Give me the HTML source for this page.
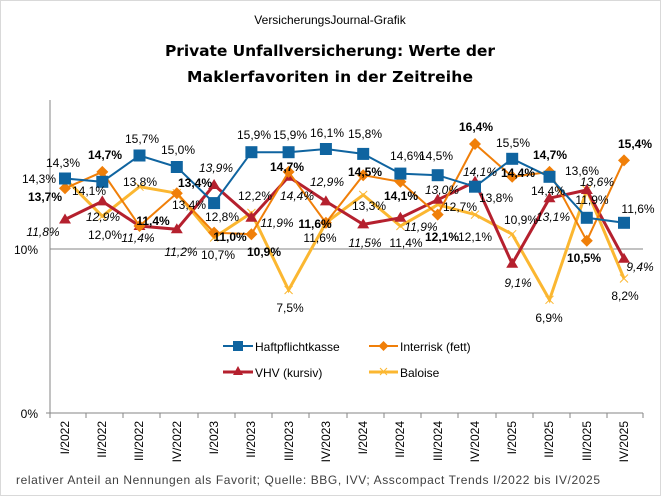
<!DOCTYPE html>
<html><head><meta charset="utf-8"><style>
body{margin:0;background:#fff}
svg{display:block;font-family:"Liberation Sans",Arial,sans-serif}
</style></head><body>
<svg width="661" height="496" viewBox="0 0 661 496" xmlns="http://www.w3.org/2000/svg">
<rect x="0.5" y="0.5" width="660" height="495" fill="#fff" stroke="#d9d9d9"/>
<text x="330" y="24" font-size="12" text-anchor="middle">VersicherungsJournal-Grafik</text>
<text x="330" y="56" font-size="15.5" font-weight="bold" text-anchor="middle" style="font-family:'DejaVu Sans',sans-serif" textLength="330">Private Unfallversicherung: Werte der</text>
<text x="330" y="82" font-size="15.5" font-weight="bold" text-anchor="middle" style="font-family:'DejaVu Sans',sans-serif" textLength="286">Maklerfavoriten in der Zeitreihe</text>
<line x1="50" y1="100" x2="50" y2="413" stroke="#868686"/>
<line x1="50" y1="249" x2="643" y2="249" stroke="#868686"/>
<line x1="46" y1="413" x2="643" y2="413" stroke="#868686"/>
<g stroke="#868686">
<line x1="50" y1="413" x2="50" y2="418"/><line x1="86" y1="413" x2="86" y2="418"/><line x1="123" y1="413" x2="123" y2="418"/><line x1="160" y1="413" x2="160" y2="418"/><line x1="198" y1="413" x2="198" y2="418"/><line x1="235" y1="413" x2="235" y2="418"/><line x1="272" y1="413" x2="272" y2="418"/><line x1="309" y1="413" x2="309" y2="418"/><line x1="347" y1="413" x2="347" y2="418"/><line x1="384" y1="413" x2="384" y2="418"/><line x1="421" y1="413" x2="421" y2="418"/><line x1="458" y1="413" x2="458" y2="418"/><line x1="496" y1="413" x2="496" y2="418"/><line x1="533" y1="413" x2="533" y2="418"/><line x1="570" y1="413" x2="570" y2="418"/><line x1="607" y1="413" x2="607" y2="418"/><line x1="643" y1="413" x2="643" y2="418"/>
</g>
<text x="38" y="254" font-size="12" text-anchor="end">10%</text>
<text x="38" y="418" font-size="12" text-anchor="end">0%</text>
<g font-size="12" text-anchor="end">
<text transform="translate(69,421) rotate(-90)">I/2022</text>
<text transform="translate(106,421) rotate(-90)">II/2022</text>
<text transform="translate(143,421) rotate(-90)">III/2022</text>
<text transform="translate(181,421) rotate(-90)">IV/2022</text>
<text transform="translate(218,421) rotate(-90)">I/2023</text>
<text transform="translate(255,421) rotate(-90)">II/2023</text>
<text transform="translate(293,421) rotate(-90)">III/2023</text>
<text transform="translate(330,421) rotate(-90)">IV/2023</text>
<text transform="translate(367,421) rotate(-90)">I/2024</text>
<text transform="translate(404,421) rotate(-90)">II/2024</text>
<text transform="translate(442,421) rotate(-90)">III/2024</text>
<text transform="translate(479,421) rotate(-90)">IV/2024</text>
<text transform="translate(516,421) rotate(-90)">I/2025</text>
<text transform="translate(553,421) rotate(-90)">II/2025</text>
<text transform="translate(591,421) rotate(-90)">III/2025</text>
<text transform="translate(628,421) rotate(-90)">IV/2025</text>
</g>
<!-- Baloise -->
<polyline fill="none" stroke="#fbb731" stroke-width="3" points="65,178.5 102.3,216.2 139.5,186.7 176.8,193.2 214.1,237.5 251.4,212.9 288.6,290 325.9,222.8 363.2,194.9 400.4,226 437.7,204.7 475,214.6 512.2,234.2 549.5,299.8 586.8,190 624,278.5"/>
<g stroke="#fbb731" stroke-width="1">
<path d="M61,174.5l8,8M69,174.5l-8,8M98.3,212.2l8,8M106.3,212.2l-8,8M135.5,182.7l8,8M143.5,182.7l-8,8M172.8,189.2l8,8M180.8,189.2l-8,8M210.1,233.5l8,8M218.1,233.5l-8,8M247.4,208.9l8,8M255.4,208.9l-8,8M284.6,286l8,8M292.6,286l-8,8M321.9,218.8l8,8M329.9,218.8l-8,8M359.2,190.9l8,8M367.2,190.9l-8,8M396.4,222l8,8M404.4,222l-8,8M433.7,200.7l8,8M441.7,200.7l-8,8M471,210.6l8,8M479,210.6l-8,8M508.2,230.2l8,8M516.2,230.2l-8,8M545.5,295.8l8,8M553.5,295.8l-8,8M582.8,186l8,8M590.8,186l-8,8M620,274.5l8,8M628,274.5l-8,8"/>
</g>
<!-- VHV -->
<polyline fill="none" stroke="#b5202e" stroke-width="3" points="65,219.5 102.3,201.4 139.5,226 176.8,229.3 214.1,185 251.4,217.8 288.6,176.8 325.9,201.4 363.2,224.4 400.4,217.8 437.7,199.8 475,181.8 512.2,263.8 549.5,198.2 586.8,190 624,258.8"/>
<g fill="#b5202e">
<path d="M65,213.5l6,10h-12z"/><path d="M102.3,195.4l6,10h-12z"/><path d="M139.5,220l6,10h-12z"/><path d="M176.8,223.3l6,10h-12z"/><path d="M214.1,179l6,10h-12z"/><path d="M251.4,211.8l6,10h-12z"/><path d="M288.6,170.8l6,10h-12z"/><path d="M325.9,195.4l6,10h-12z"/><path d="M363.2,218.4l6,10h-12z"/><path d="M400.4,211.8l6,10h-12z"/><path d="M437.7,193.8l6,10h-12z"/><path d="M475,175.8l6,10h-12z"/><path d="M512.2,257.8l6,10h-12z"/><path d="M549.5,192.2l6,10h-12z"/><path d="M586.8,184l6,10h-12z"/><path d="M624,252.8l6,10h-12z"/>
</g>
<!-- Interrisk -->
<polyline fill="none" stroke="#f07f09" stroke-width="2" points="65,188.3 102.3,171.9 139.5,226 176.8,193.2 214.1,232.6 251.4,234.2 288.6,171.9 325.9,222.8 363.2,175.2 400.4,181.8 437.7,214.6 475,144 512.2,176.8 549.5,171.9 586.8,240.8 624,160.4"/>
<g fill="#f07f09">
<path d="M65,182.3l6,6l-6,6l-6,-6z"/><path d="M102.3,165.9l6,6l-6,6l-6,-6z"/><path d="M139.5,220l6,6l-6,6l-6,-6z"/><path d="M176.8,187.2l6,6l-6,6l-6,-6z"/><path d="M214.1,226.6l6,6l-6,6l-6,-6z"/><path d="M251.4,228.2l6,6l-6,6l-6,-6z"/><path d="M288.6,165.9l6,6l-6,6l-6,-6z"/><path d="M325.9,216.8l6,6l-6,6l-6,-6z"/><path d="M363.2,169.2l6,6l-6,6l-6,-6z"/><path d="M400.4,175.8l6,6l-6,6l-6,-6z"/><path d="M437.7,208.6l6,6l-6,6l-6,-6z"/><path d="M475,138l6,6l-6,6l-6,-6z"/><path d="M512.2,170.8l6,6l-6,6l-6,-6z"/><path d="M549.5,165.9l6,6l-6,6l-6,-6z"/><path d="M586.8,234.8l6,6l-6,6l-6,-6z"/><path d="M624,154.4l6,6l-6,6l-6,-6z"/>
</g>
<!-- Haftpflichtkasse -->
<polyline fill="none" stroke="#0f64a0" stroke-width="2" points="65,178.5 102.3,181.8 139.5,155.5 176.8,167 214.1,203.1 251.4,152.2 288.6,152.2 325.9,149 363.2,153.9 400.4,173.6 437.7,175.2 475,186.7 512.2,158.8 549.5,176.8 586.8,217.8 624,222.8"/>
<g fill="#0f64a0">
<rect x="59" y="172.5" width="12" height="12"/><rect x="96.3" y="175.8" width="12" height="12"/><rect x="133.5" y="149.5" width="12" height="12"/><rect x="170.8" y="161" width="12" height="12"/><rect x="208.1" y="197.1" width="12" height="12"/><rect x="245.4" y="146.2" width="12" height="12"/><rect x="282.6" y="146.2" width="12" height="12"/><rect x="319.9" y="143" width="12" height="12"/><rect x="357.2" y="147.9" width="12" height="12"/><rect x="394.4" y="167.6" width="12" height="12"/><rect x="431.7" y="169.2" width="12" height="12"/><rect x="469" y="180.7" width="12" height="12"/><rect x="506.2" y="152.8" width="12" height="12"/><rect x="543.5" y="170.8" width="12" height="12"/><rect x="580.8" y="211.8" width="12" height="12"/><rect x="618" y="216.8" width="12" height="12"/>
</g>
<!-- labels -->
<g font-size="12" text-anchor="middle">
<text x="63" y="167">14,3%</text><text x="39" y="183">14,3%</text><text x="89" y="195">14,1%</text>
<text x="142" y="143">15,7%</text><text x="178" y="154">15,0%</text><text x="140" y="186">13,8%</text>
<text x="105" y="239">12,0%</text><text x="189" y="209">13,4%</text><text x="222" y="221">12,8%</text>
<text x="218" y="259">10,7%</text><text x="255" y="200">12,2%</text><text x="254" y="139">15,9%</text>
<text x="290" y="139">15,9%</text><text x="327" y="137">16,1%</text><text x="320" y="242">11,6%</text>
<text x="290" y="312">7,5%</text><text x="365" y="138">15,8%</text><text x="407" y="160">14,6%</text>
<text x="436" y="160">14,5%</text><text x="369" y="210">13,3%</text><text x="406" y="247">11,4%</text>
<text x="475" y="241">12,1%</text><text x="460" y="211">12,7%</text><text x="496" y="202">13,8%</text>
<text x="513" y="147">15,5%</text><text x="548" y="195">14,4%</text><text x="521" y="224">10,9%</text>
<text x="549" y="322">6,9%</text><text x="582" y="175">13,6%</text><text x="592" y="204">11,9%</text>
<text x="638" y="213">11,6%</text><text x="625" y="300">8,2%</text>
</g>
<g font-size="12" text-anchor="middle" font-weight="bold">
<text x="45" y="201">13,7%</text><text x="105" y="159">14,7%</text><text x="153" y="225">11,4%</text>
<text x="195" y="187">13,4%</text><text x="230" y="241">11,0%</text><text x="264" y="256">10,9%</text>
<text x="287" y="171">14,7%</text><text x="315" y="228">11,6%</text><text x="365" y="176">14,5%</text>
<text x="401" y="200">14,1%</text><text x="442" y="241">12,1%</text><text x="476" y="131">16,4%</text>
<text x="518" y="177">14,4%</text><text x="550" y="159">14,7%</text><text x="584" y="262">10,5%</text>
<text x="635" y="148">15,4%</text>
</g>
<g font-size="12" text-anchor="middle" font-style="italic">
<text x="43" y="236">11,8%</text><text x="103" y="221">12,9%</text><text x="138" y="242">11,4%</text>
<text x="181" y="256">11,2%</text><text x="216" y="172">13,9%</text><text x="277" y="227">11,9%</text>
<text x="297" y="200">14,4%</text><text x="327" y="186">12,9%</text><text x="365" y="247">11,5%</text>
<text x="421" y="231">11,9%</text><text x="442" y="194">13,0%</text><text x="480" y="176">14,1%</text>
<text x="518" y="287">9,1%</text><text x="553" y="221">13,1%</text><text x="597" y="186">13,6%</text>
<text x="640" y="271">9,4%</text>
</g>
<!-- legend -->
<g font-size="12">
<line x1="223" y1="346" x2="253" y2="346" stroke="#0f64a0" stroke-width="2"/><rect x="233" y="341" width="10" height="10" fill="#0f64a0"/>
<text x="255" y="351">Haftpflichtkasse</text>
<line x1="369" y1="346" x2="398" y2="346" stroke="#f07f09" stroke-width="2"/><path d="M383.5,341l5,5l-5,5l-5,-5z" fill="#f07f09"/>
<text x="400" y="351">Interrisk (fett)</text>
<line x1="223" y1="372" x2="253" y2="372" stroke="#b5202e" stroke-width="3"/><path d="M238,366l5,9h-10z" fill="#b5202e"/>
<text x="255" y="377">VHV (kursiv)</text>
<line x1="369" y1="372" x2="398" y2="372" stroke="#fbb731" stroke-width="3"/><path d="M380,368l7,7M387,368l-7,7" stroke="#fbb731"/>
<text x="400" y="377">Baloise</text>
</g>
<text x="16" y="484" font-size="12" fill="#404040" textLength="584">relativer  Anteil an Nennungen  als Favorit;  Quelle:  BBG, IVV;  Asscompact Trends  I/2022  bis IV/2025</text>
</svg>
</body></html>
